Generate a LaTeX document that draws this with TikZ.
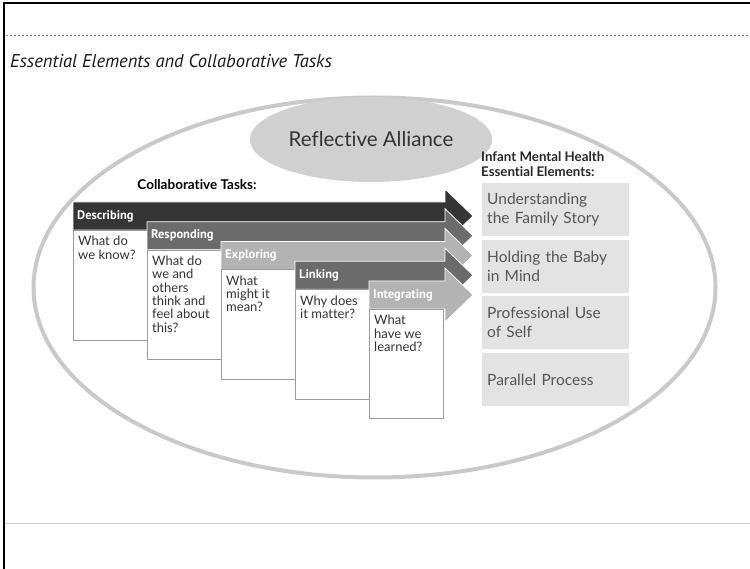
\documentclass[tikz,border=0pt]{standalone}
\usepackage{fontspec}
\setmainfont{Lato}[Ligatures=NoCommon]
\newfontfamily\ptsans{PT Sans}
\usetikzlibrary{positioning, shapes.geometric}

\definecolor{ringgray}{HTML}{C9C9C9}
\definecolor{alliance}{HTML}{D0D0D0}
\definecolor{boxline}{HTML}{9A9A9A}
\definecolor{elemfill}{HTML}{E3E3E3}
\definecolor{elemtext}{HTML}{555555}
\definecolor{tasktext}{HTML}{333333}
\definecolor{taskA}{HTML}{353535}
\definecolor{taskB}{HTML}{6B6B6B}
\definecolor{taskC}{HTML}{B3B3B3}

\begin{document}
\begin{tikzpicture}[x=1pt, y=-1pt,
		header/.style={anchor=west, text=white, inner sep=0pt, font=\ptsans\bfseries\fontsize{12.5}{14}\selectfont},
		taskbox/.style={draw=boxline, fill=white, anchor=north west, minimum width=74pt, inner sep=0pt},
		question/.style={align=left, inner sep=0pt, text=tasktext, font=\fontsize{13}{13.3}\selectfont},
		element/.style={fill=elemfill, text=elemtext, text width=137pt, inner xsep=5pt, minimum height=53pt, align=left, font=\fontsize{15.5}{19}\selectfont}]
	\useasboundingbox (0,0) rectangle (750,569);

	% page frame and rules
	\draw[line width=2.5pt] (4,569) -- (4,3) -- (750,3);
	\draw[black!50, line width=0.8pt, dash pattern=on 2pt off 2pt] (6,35) -- (750,35);
	\draw[black!20, line width=1pt] (6,523) -- (750,523);
	\node[anchor=base west, inner sep=0pt, text=black!90, font=\ptsans\itshape\fontsize{18.5}{22}\selectfont] (title) at (10,68) {Essential Elements and Collaborative Tasks};

	% outer ring and alliance
	\draw[ringgray, line width=4pt] (374.5,287.5) ellipse [x radius=341, y radius=190];
	\node[ellipse, fill=alliance, minimum width=197pt, minimum height=85pt, text=black!80, font=\fontsize{20.5}{24}\selectfont] (alliance) at (371,139.5) {Reflective Alliance};

	% collaborative tasks
	\node[anchor=base, font=\bfseries\fontsize{13.5}{15}\selectfont] (tasks) at (197,190) {Collaborative Tasks:};
	\foreach \name/\col/\txt [count=\i from 0] in {
			Describing/taskA/{What do\\we know?},
			Responding/taskB/{What do\\we and\\others\\think and\\feel about\\this?},
			Exploring/taskC/{What\\might it\\mean?},
			Linking/taskB/{Why does\\it matter?},
			Integrating/taskC/{What\\have we\\learned?}} {
		\pgfmathsetmacro{\xl}{73+74*\i}
		\pgfmathsetmacro{\yt}{202+19.75*\i}
		\pgfmathsetmacro{\yb}{340+19.5*\i}
		\filldraw[fill=\col, draw=white, line width=0.8pt] (\xl,\yt) -- (445,\yt) -- (445,\yt-13) -- (473,\yt+14)
			-- (445,\yt+41) -- (445,\yt+28) -- (\xl,\yt+28) -- cycle;
		\node[header] (\name) at (\xl+4,\yt+14) {\name};
		\node[taskbox, minimum height=\yb-\yt-28] (\name box) at (\xl,\yt+28) {};
		\node[question, below right=6pt and 5pt of \name box.north west] (\name text) {\txt};
	}

	% essential elements
	\node[anchor=north west, inner sep=0pt, align=left, text=black!85, font=\bfseries\fontsize{13.3}{15}\selectfont] (imh) at (481,151) {Infant Mental Health\\Essential Elements:};
	\node[element, anchor=north west] (story) at (482,183) {Understanding\\the Family Story};
	\node[element, below=3pt of story] (baby) {Holding the Baby\\in Mind};
	\node[element, below=3pt of baby] (self) {Professional Use\\of Self};
	\node[element, below=4pt of self] (parallel) {Parallel Process};
\end{tikzpicture}
\end{document}
